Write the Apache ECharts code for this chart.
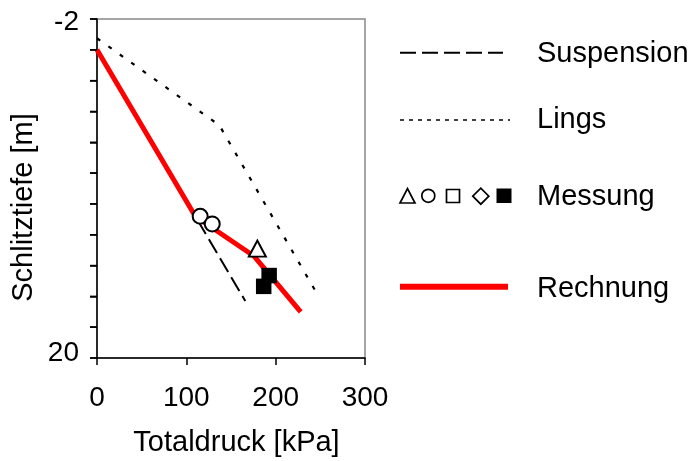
<!DOCTYPE html>
<html>
<head>
<meta charset="utf-8">
<script src="https://cdn.jsdelivr.net/npm/echarts@6/dist/echarts.min.js"></script>
<style>html,body{margin:0;padding:0;background:#fff;}#c{width:693px;height:461px;}</style>
</head>
<body>
<div id="c"></div>
<script>
// ---- data ----
const xTickValues = [0, 100, 200, 300];
const yTickValues = [-2, 0, 2, 4, 6, 8, 10, 12, 14, 16, 18, 20];
const yTickLabels = [-2, 20];
const suspension = [[0, 0], [166, 16.3]];
const lings = [[0, -0.75], [137, 4.9], [248, 16.0]];
const rechnung = [[0, 0], [110, 10.8], [176, 13.4], [228, 17.0]];
const messungKreis = [[115.5, 10.8], [129, 11.3]];
const messungDreieck = [[179.5, 12.9]];
const messungQuadrat = [[186.6, 15.35], [192.7, 14.65]];
const legendNames = ['Suspension', 'Lings', 'Messung', 'Rechnung'];
const xTitle = 'Totaldruck [kPa]';
const yTitle = 'Schlitztiefe [m]';

const FONT = '"Liberation Sans", Arial, sans-serif';
const chart = echarts.init(document.getElementById('c'), null, {renderer: 'canvas'});

const legendY = [53.6, 120.3, 197, 288.6];
const graphic = [
  {type: 'text', x: 236.5, y: 443, style: {text: xTitle, font: '29px ' + FONT, fill: '#000', textAlign: 'center', textVerticalAlign: 'middle'}},
  {type: 'text', x: 23.8, y: 207.5, rotation: Math.PI / 2, style: {text: yTitle, font: '29px ' + FONT, fill: '#000', textAlign: 'center', textVerticalAlign: 'middle'}},
  // legend samples
  {type: 'line', shape: {x1: 400, y1: 52.7, x2: 503, y2: 52.7}, style: {stroke: '#000', lineWidth: 2, lineDash: [16, 6]}},
  {type: 'line', shape: {x1: 400, y1: 120, x2: 510, y2: 120}, style: {stroke: '#000', lineWidth: 1.5, lineDash: [4, 5]}},
  {type: 'polygon', shape: {points: [[400, 203], [407.5, 188.5], [415, 203]]}, style: {stroke: '#000', lineWidth: 1.7, fill: 'none'}},
  {type: 'circle', shape: {cx: 428.3, cy: 195.8, r: 6.5}, style: {stroke: '#000', lineWidth: 1.7, fill: 'none'}},
  {type: 'rect', shape: {x: 446.5, y: 189.5, width: 13, height: 13}, style: {stroke: '#000', lineWidth: 1.7, fill: 'none'}},
  {type: 'polygon', shape: {points: [[472.8, 196.2], [480.8, 188.2], [488.8, 196.2], [480.8, 204.2]]}, style: {stroke: '#000', lineWidth: 1.7, fill: 'none'}},
  {type: 'rect', shape: {x: 496.5, y: 188.5, width: 15, height: 14.5}, style: {fill: '#000'}},
  {type: 'line', shape: {x1: 400, y1: 286.7, x2: 508, y2: 286.7}, style: {stroke: '#ff0000', lineWidth: 6}}
];
legendNames.forEach((n, i) => {
  graphic.push({type: 'text', x: 537, y: legendY[i], style: {text: n, font: '29px ' + FONT, fill: '#000', textAlign: 'left', textVerticalAlign: 'middle'}});
});

chart.setOption({
  animation: false,
  backgroundColor: '#fff',
  grid: {left: 97, right: 328, top: 19, bottom: 103, show: true, borderColor: '#888', borderWidth: 1.5, backgroundColor: 'transparent'},
  xAxis: {
    type: 'value', min: 0, max: 300, interval: 100,
    axisLine: {show: true, onZero: false, lineStyle: {color: '#000', width: 1.5}},
    axisTick: {show: true, length: 7, lineStyle: {color: '#000', width: 1.5}},
    axisLabel: {fontSize: 28, fontFamily: FONT, color: '#000', margin: 26,
      formatter: v => xTickValues.includes(v) ? String(v) : ''},
    splitLine: {show: false}
  },
  yAxis: {
    type: 'value', inverse: true, min: -2, max: 20, interval: 2, splitLine: {show: false},
    axisLine: {show: true, onZero: false, lineStyle: {color: '#000', width: 1.5}},
    axisTick: {show: true, length: 7, lineStyle: {color: '#000', width: 1.5}},
    axisLabel: {color: '#000', margin: 18, hideOverlap: false,
      formatter: v => !yTickLabels.includes(v) ? '{h|' + v + '}' : (v === yTickLabels[0] ? '{top|' + v + '}' : '{bot|' + v + '}'),
      rich: {
        h: {fontSize: 8, color: 'rgba(0,0,0,0)'},
        top: {fontSize: 28, fontFamily: FONT, color: '#000', padding: [6, 0, 0, 0]},
        bot: {fontSize: 28, fontFamily: FONT, color: '#000', padding: [0, 0, 10, 0]}
      }}
  },
  series: [
    {name: 'Suspension', type: 'line', data: suspension, showSymbol: false, symbol: 'none', z: 2,
      lineStyle: {color: '#000', width: 2, type: [16, 6]}},
    {name: 'Lings', type: 'line', data: lings, showSymbol: false, symbol: 'none', z: 2,
      lineStyle: {color: '#000', width: 2.2, type: [4, 10]}},
    {name: 'Rechnung', type: 'line', data: rechnung, showSymbol: false, symbol: 'none', z: 3,
      lineStyle: {color: '#ff0000', width: 5}},
    {name: 'Messung', type: 'scatter', data: messungKreis, symbol: 'circle', symbolSize: 15, z: 4,
      itemStyle: {color: '#fff', borderColor: '#000', borderWidth: 2, opacity: 1}},
    {name: 'Messung', type: 'scatter', data: messungDreieck, symbol: 'triangle', symbolSize: [17, 16], z: 4,
      itemStyle: {color: '#fff', borderColor: '#000', borderWidth: 2, opacity: 1}},
    {name: 'Messung', type: 'scatter', data: messungQuadrat, symbol: 'rect', symbolSize: 15.5, z: 4,
      itemStyle: {color: '#000', opacity: 1}},
    {name: 'yTicks', type: 'custom', silent: true, clip: false, z: 5,
      data: yTickValues.map(v => [0, v]),
      renderItem: (params, api) => {
        const p = api.coord([0, api.value(1)]);
        return {type: 'line', shape: {x1: p[0] - 7, y1: p[1], x2: p[0], y2: p[1]}, style: {stroke: '#000', lineWidth: 1.5}};
      }}
  ],
  graphic: graphic
});
</script>
</body>
</html>
